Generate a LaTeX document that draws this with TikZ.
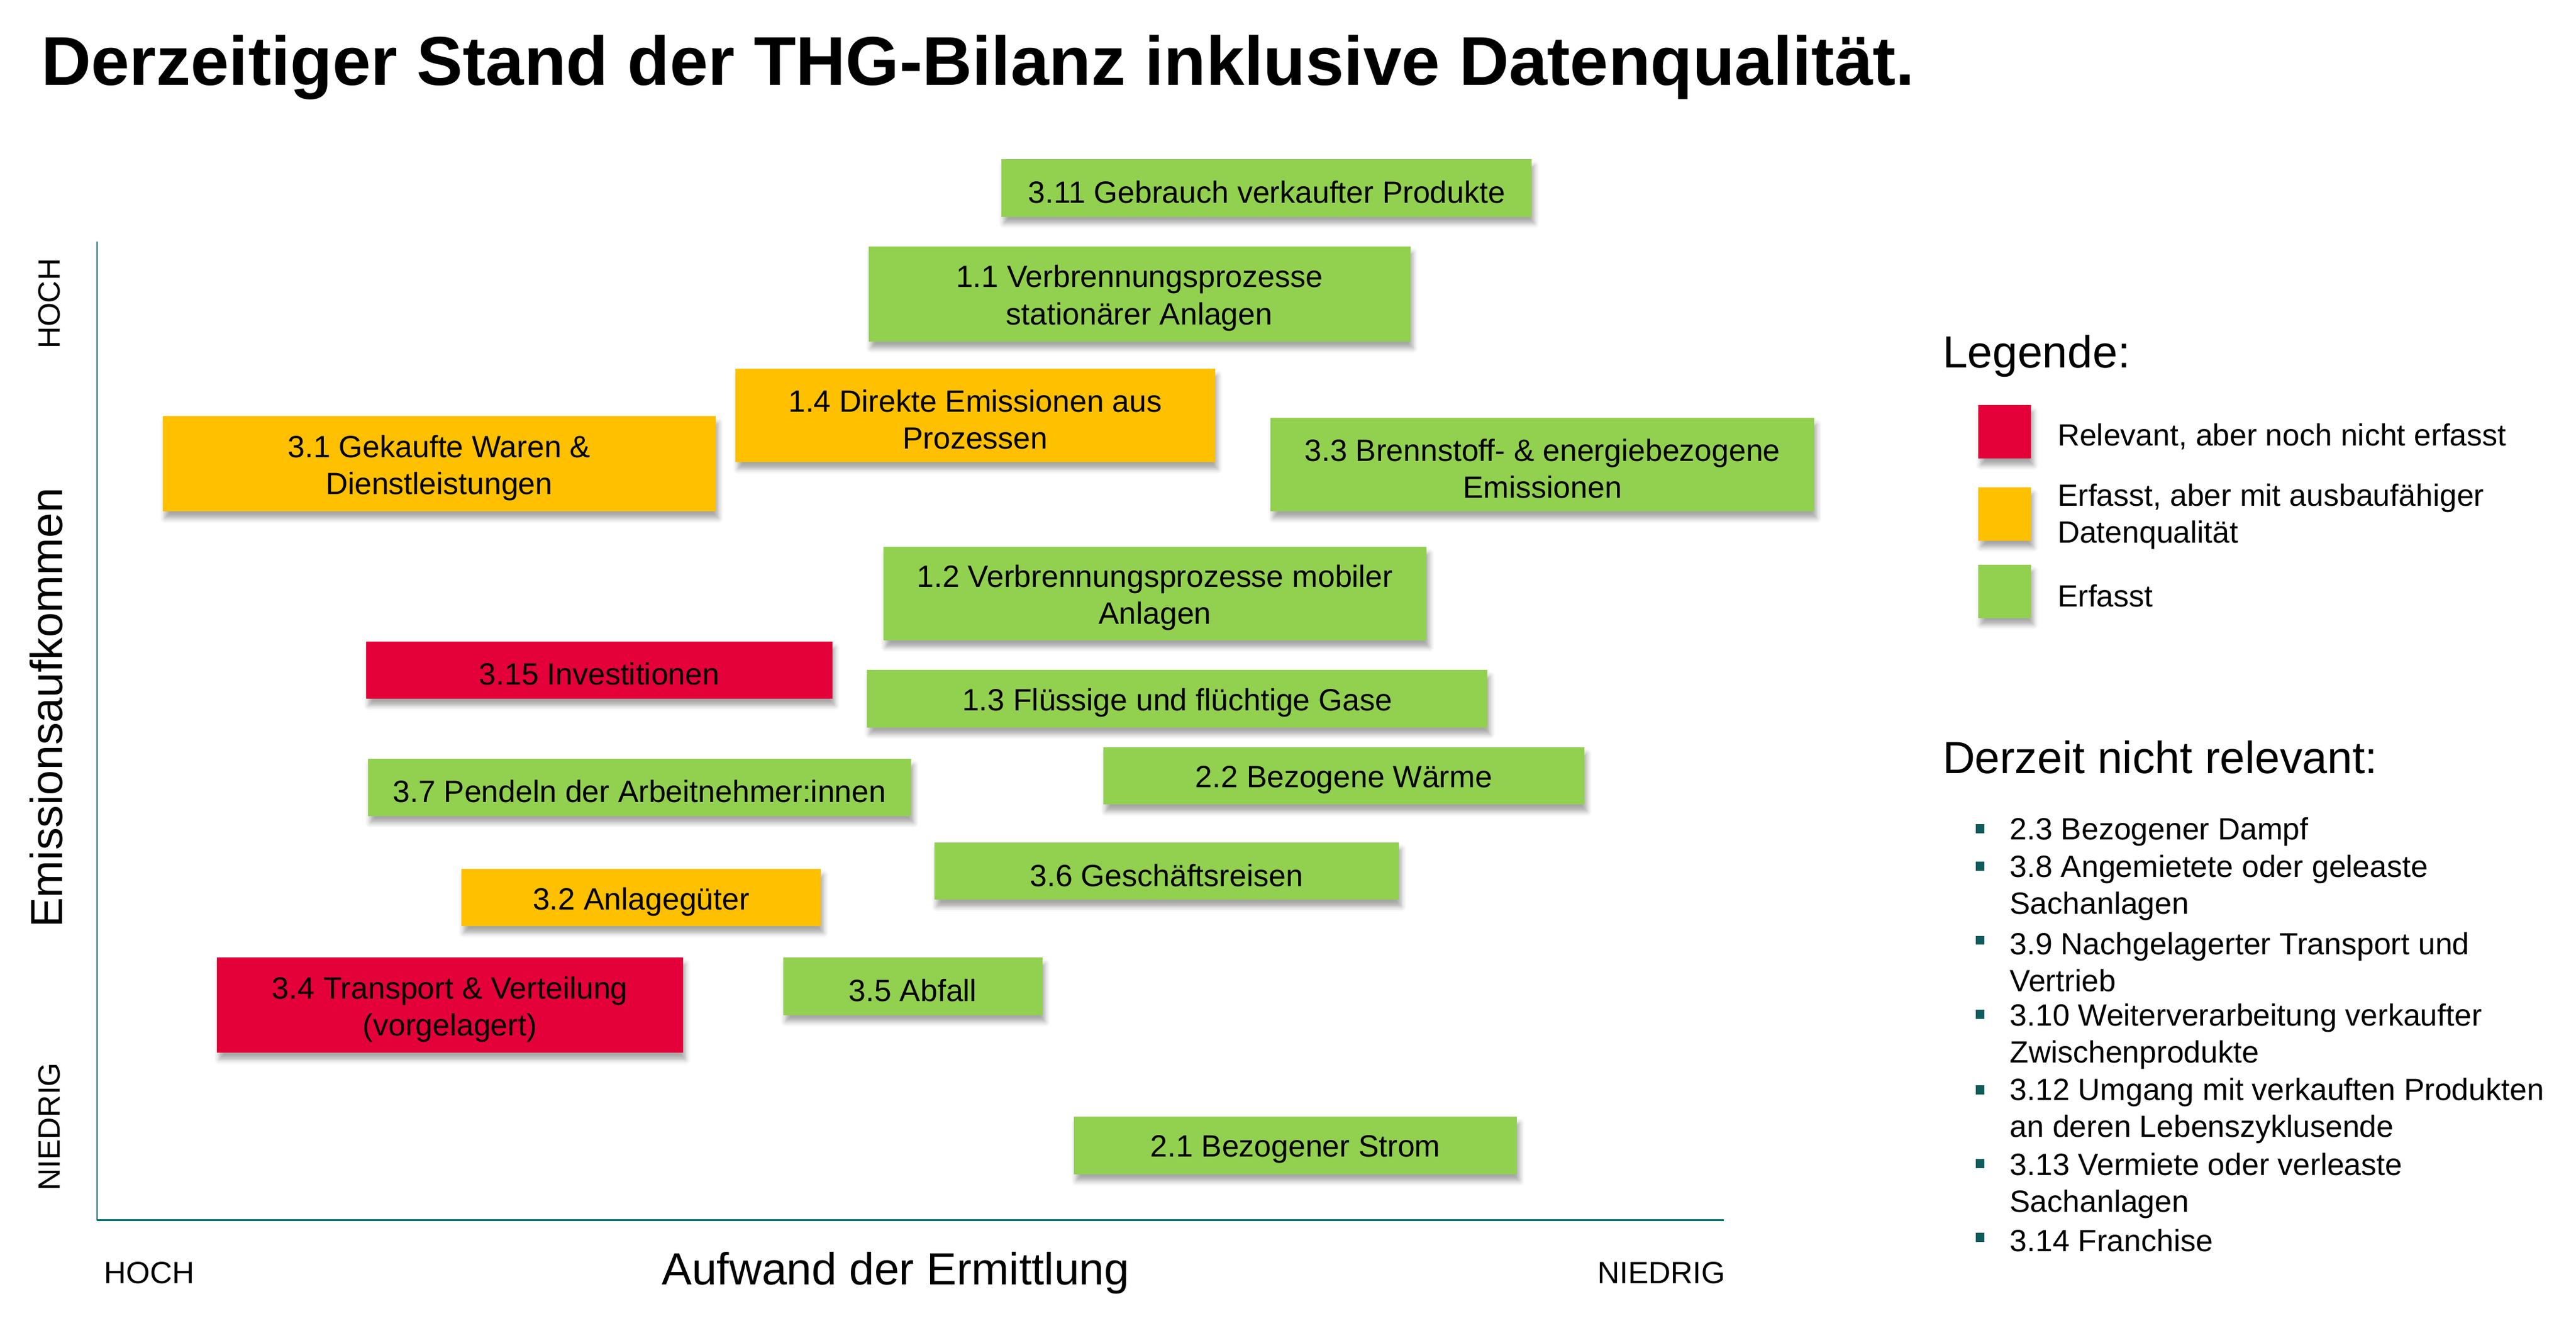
\documentclass[tikz,border=0pt]{standalone}
\usepackage{fontspec}
\setmainfont{Liberation Sans}
\usetikzlibrary{shadows.blur}
\definecolor{cgreen}{HTML}{92D050}
\definecolor{corange}{HTML}{FFC000}
\definecolor{cred}{HTML}{E40038}
\definecolor{cteal}{HTML}{007070}
\definecolor{cbullet}{HTML}{0E5C5C}
\newcommand{\qbox}[7]{%
  \node[#1, minimum width=#5pt, minimum height=#6pt] (#2) at (#3,#4) {};
  \node[txt, align=center] (#2t) at ([yshift=-2.5pt]#2.center) {#7};}
\begin{document}
\begin{tikzpicture}[x=1pt,y=-1pt,
  txt/.style={inner sep=0pt, font=\fontsize{18.7}{22.5}\selectfont},
  big/.style={inner sep=0pt, font=\fontsize{27.4}{32}\selectfont},
  box/.style={rectangle, inner sep=0pt,
    blur shadow={shadow xshift=1.5pt, shadow yshift=-4pt, shadow blur radius=3pt, shadow opacity=35}},
  gbox/.style={box, fill=cgreen},
  obox/.style={box, fill=corange},
  rbox/.style={box, fill=cred},
  axis/.style={draw=cteal},
  bullet/.style={rectangle, fill=cbullet, inner sep=0pt, minimum size=5.5pt},
  item/.style={txt, anchor=west, align=left}]
\useasboundingbox (0,0) rectangle (1569,808.6);
% title
\node[inner sep=0pt, anchor=base west, font=\fontsize{42}{48}\selectfont\bfseries] (title) at (25,52) {Derzeitiger Stand der THG-Bilanz inklusive Datenqualität.};
% axes
\coordinate (ytop) at (59,147);
\coordinate (orig) at (59,743);
\coordinate (xend) at (1050,743);
\draw[axis, line width=0.8pt] (ytop) -- (orig);
\draw[axis, line width=1.2pt] (orig) -- (xend);
\node[txt, rotate=90] (yhoch) at (30,185) {HOCH};
\node[big, rotate=90] (ylabel) at (28,431) {Emissionsaufkommen};
\node[txt, rotate=90] (yniedrig) at (30,686) {NIEDRIG};
\node[txt] (xhoch) at (91,775) {HOCH};
\node[big] (xlabel) at (545.5,775) {Aufwand der Ermittlung};
\node[txt] (xniedrig) at (1012,775) {NIEDRIG};
% boxes
\qbox{gbox}{b311}{771.5}{114.5}{323}{35}{3.11 Gebrauch verkaufter Produkte}
\qbox{gbox}{b11}{694}{179}{330}{58}{1.1 Verbrennungsprozesse\\stationärer Anlagen}
\qbox{obox}{b14}{594}{253}{292}{57}{1.4 Direkte Emissionen aus\\Prozessen}
\qbox{obox}{b31}{267.5}{282.5}{337}{58}{3.1 Gekaufte Waren \&\\Dienstleistungen}
\qbox{gbox}{b33}{939.5}{283}{331}{57}{3.3 Brennstoff- \& energiebezogene\\Emissionen}
\qbox{gbox}{b12}{703.5}{361.5}{331}{57}{1.2 Verbrennungsprozesse mobiler\\Anlagen}
\qbox{rbox}{b315}{365}{408}{284}{35}{3.15 Investitionen}
\qbox{gbox}{b13}{717}{425.5}{378}{35}{1.3 Flüssige und flüchtige Gase}
\qbox{gbox}{b37}{389.5}{479.5}{331}{35}{3.7 Pendeln der Arbeitnehmer:innen}
\qbox{gbox}{b22}{818.5}{472.5}{293}{35}{2.2 Bezogene Wärme}
\qbox{gbox}{b36}{710.5}{530.5}{283}{35}{3.6 Geschäftsreisen}
\qbox{obox}{b32}{390.5}{546.5}{219}{35}{3.2 Anlagegüter}
\qbox{rbox}{b34}{274}{612}{284}{58}{3.4 Transport \& Verteilung\\(vorgelagert)}
\qbox{gbox}{b35}{556}{600.5}{158}{35}{3.5 Abfall}
\qbox{gbox}{b21}{789}{697.5}{270}{35}{2.1 Bezogener Strom}
% legend
\node[big, anchor=west] (leg) at (1183,217) {Legende:};
\node[rbox, minimum width=32pt, minimum height=32.5pt] (l1) at (1221,263) {};
\node[obox, minimum width=32pt, minimum height=32.5pt] (l2) at (1221,313) {};
\node[gbox, minimum width=32pt, minimum height=32.5pt] (l3) at (1221,360) {};
\node[item] (lt1) at (1253,266) {Relevant, aber noch nicht erfasst};
\node[item] (lt2) at (1253,314.5) {Erfasst, aber mit ausbaufähiger\\Datenqualität};
\node[item] (lt3) at (1253,363) {Erfasst};
% not relevant
\node[big, anchor=west] (nr) at (1183,461) {Derzeit nicht relevant:};
\node[bullet] (p1) at (1206,504.5) {};
\node[item] (i1) at (1224,506.5) {2.3 Bezogener Dampf};
\node[bullet] (p2) at (1206,527.5) {};
\node[item] (i2) at (1224,540.5) {3.8 Angemietete oder geleaste\\Sachanlagen};
\node[bullet] (p3) at (1206,572.5) {};
\node[item] (i3) at (1224,586) {3.9 Nachgelagerter Transport und\\Vertrieb};
\node[bullet] (p4) at (1206,617.5) {};
\node[item] (i4) at (1224,631) {3.10 Weiterverarbeitung verkaufter\\Zwischenprodukte};
\node[bullet] (p5) at (1206,663.5) {};
\node[item] (i5) at (1224,676.5) {3.12 Umgang mit verkauften Produkten\\an deren Lebenszyklusende};
\node[bullet] (p6) at (1206,708.5) {};
\node[item] (i6) at (1224,722) {3.13 Vermiete oder verleaste\\Sachanlagen};
\node[bullet] (p7) at (1206,753.5) {};
\node[item] (i7) at (1224,755.5) {3.14 Franchise};
\end{tikzpicture}
\end{document}
